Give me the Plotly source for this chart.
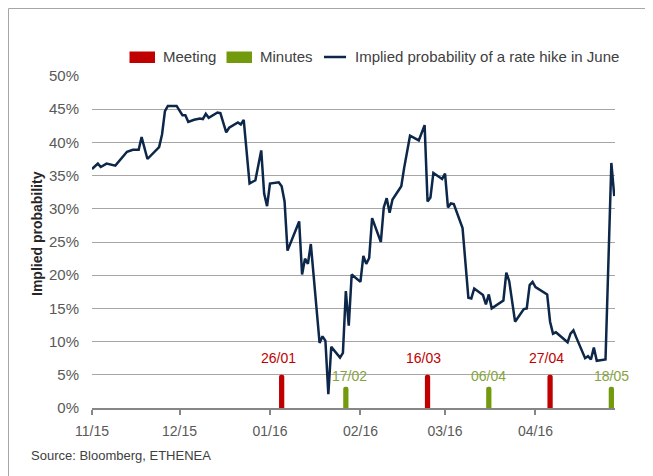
import plotly.graph_objects as go

# ---------------- data ----------------
line_dates = [
    "2015-11-22", "2015-11-24", "2015-11-25", "2015-11-27", "2015-11-30",
    "2015-12-03", "2015-12-04", "2015-12-06", "2015-12-08", "2015-12-09",
    "2015-12-11", "2015-12-15", "2015-12-16", "2015-12-17", "2015-12-18",
    "2015-12-21", "2015-12-23", "2015-12-24", "2015-12-25", "2015-12-27",
    "2015-12-29", "2015-12-30", "2015-12-31", "2016-01-01", "2016-01-04",
    "2016-01-05", "2016-01-07", "2016-01-08", "2016-01-11", "2016-01-12",
    "2016-01-13", "2016-01-15", "2016-01-17", "2016-01-19", "2016-01-20",
    "2016-01-21", "2016-01-22", "2016-01-25", "2016-01-26", "2016-01-27",
    "2016-01-28", "2016-02-01", "2016-02-02", "2016-02-03", "2016-02-04",
    "2016-02-05", "2016-02-08", "2016-02-09", "2016-02-10", "2016-02-11",
    "2016-02-12", "2016-02-15", "2016-02-16", "2016-02-17", "2016-02-18",
    "2016-02-19", "2016-02-22", "2016-02-23", "2016-02-24", "2016-02-25",
    "2016-02-26", "2016-02-29", "2016-03-01", "2016-03-02", "2016-03-03",
    "2016-03-04", "2016-03-07", "2016-03-08", "2016-03-10", "2016-03-13",
    "2016-03-15", "2016-03-16", "2016-03-17", "2016-03-18", "2016-03-21",
    "2016-03-22", "2016-03-23", "2016-03-24", "2016-03-25", "2016-03-28",
    "2016-03-30", "2016-03-31", "2016-04-01", "2016-04-04", "2016-04-05",
    "2016-04-06", "2016-04-07", "2016-04-11", "2016-04-12", "2016-04-13",
    "2016-04-15", "2016-04-18", "2016-04-19", "2016-04-20", "2016-04-21",
    "2016-04-22", "2016-04-26", "2016-04-27", "2016-04-28", "2016-04-29",
    "2016-05-03", "2016-05-04", "2016-05-05", "2016-05-06", "2016-05-09",
    "2016-05-10", "2016-05-11", "2016-05-12", "2016-05-13", "2016-05-16",
    "2016-05-18", "2016-05-19",
]
line_values = [
    0.360, 0.368, 0.363, 0.368, 0.365,
    0.382, 0.386, 0.389, 0.389, 0.408,
    0.375, 0.393, 0.412, 0.447, 0.455,
    0.455, 0.441, 0.441, 0.431, 0.434,
    0.436, 0.435, 0.443, 0.437, 0.445,
    0.444, 0.415, 0.422, 0.430, 0.427,
    0.434, 0.338, 0.343, 0.388, 0.323,
    0.304, 0.338, 0.340, 0.334, 0.311,
    0.237, 0.281, 0.201, 0.225, 0.217,
    0.247, 0.098, 0.108, 0.101, 0.021,
    0.092, 0.076, 0.083, 0.176, 0.124,
    0.201, 0.190, 0.229, 0.217, 0.226,
    0.286, 0.250, 0.302, 0.316, 0.294,
    0.314, 0.334, 0.362, 0.410, 0.403,
    0.426, 0.311, 0.317, 0.354, 0.345,
    0.353, 0.302, 0.308, 0.307, 0.271,
    0.166, 0.165, 0.180, 0.170, 0.156,
    0.171, 0.150, 0.162, 0.204, 0.191,
    0.130, 0.149, 0.150, 0.185, 0.190,
    0.182, 0.171, 0.130, 0.112, 0.114,
    0.099, 0.112, 0.117, 0.106, 0.075,
    0.078, 0.073, 0.091, 0.071, 0.073,
    0.369, 0.319,
]

meeting_dates = ["2016-01-26", "2016-03-16", "2016-04-27"]
meeting_labels = ["26/01", "16/03", "27/04"]
meeting_heights = [0.05, 0.05, 0.05]

minutes_dates = ["2016-02-17", "2016-04-06", "2016-05-18"]
minutes_labels = ["17/02", "06/04", "18/05"]
minutes_heights = [0.032, 0.032, 0.032]

tick_dates = ["2015-11-22", "2015-12-22", "2016-01-22",
              "2016-02-22", "2016-03-22", "2016-04-22"]
tick_labels = ["11/15", "12/15", "01/16", "02/16", "03/16", "04/16"]

y_ticks = [0, 0.05, 0.10, 0.15, 0.20, 0.25, 0.30, 0.35, 0.40, 0.45, 0.50]

legend_names = ["Meeting", "Minutes", "Implied probability of a rate hike in June"]

# ---------------- style ----------------
OFF = 8  # page body margin
W, H = 645, 468
L, R, T, B = 84, 38, 68, 68
PW, PH = W - L - R, H - T - B
RED = "#c00000"
GREEN = "#739a0c"
GREEN_TXT = "#86a43e"
NAVY = "#0c2749"
FONT = "Liberation Sans, Arial, sans-serif"
DAY_MS = 86400000


def px(x):
    """page pixel x -> paper coordinate"""
    return (x - OFF - L) / PW


def py(y):
    """page pixel y -> paper coordinate"""
    return (H - B - (y - OFF)) / PH


fig = go.Figure()

fig.add_trace(go.Bar(
    x=meeting_dates, y=meeting_heights, name=legend_names[0],
    marker=dict(color=RED, line=dict(width=0)),
    width=[1.8 * DAY_MS] * len(meeting_dates), showlegend=False,
    hoverinfo="skip",
))
fig.add_trace(go.Bar(
    x=minutes_dates, y=minutes_heights, name=legend_names[1],
    marker=dict(color=GREEN, line=dict(width=0)),
    width=[1.8 * DAY_MS] * len(minutes_dates), showlegend=False,
    hoverinfo="skip",
))
fig.add_trace(go.Scatter(
    x=line_dates, y=line_values, mode="lines", name=legend_names[2],
    line=dict(color=NAVY, width=2.5), showlegend=False,
))

annotations = []
label_shift = {"26/01": -3, "16/03": -4, "27/04": -4, "17/02": 4}
for d, lab, h in zip(meeting_dates, meeting_labels, meeting_heights):
    annotations.append(dict(
        x=d, y=h, xref="x", yref="y", text=lab, showarrow=False,
        yanchor="bottom", yshift=7, xshift=label_shift.get(lab, 0),
        font=dict(family=FONT, size=14, color=RED),
    ))
for d, lab, h in zip(minutes_dates, minutes_labels, minutes_heights):
    annotations.append(dict(
        x=d, y=h, xref="x", yref="y", text=lab, showarrow=False,
        yanchor="bottom", yshift=1, xshift=label_shift.get(lab, 0),
        font=dict(family=FONT, size=14, color=GREEN_TXT),
    ))

# legend (drawn manually)
LEG_Y = 57
leg_font = dict(family=FONT, size=15, color="#404040")
annotations += [
    dict(x=px(161), y=py(LEG_Y), xref="paper", yref="paper", text=legend_names[0],
         showarrow=False, xanchor="left", yanchor="middle", font=leg_font),
    dict(x=px(258), y=py(LEG_Y), xref="paper", yref="paper", text=legend_names[1],
         showarrow=False, xanchor="left", yanchor="middle", font=leg_font),
    dict(x=px(353), y=py(LEG_Y), xref="paper", yref="paper", text=legend_names[2],
         showarrow=False, xanchor="left", yanchor="middle", font=leg_font),
]

# y-axis title
annotations.append(dict(
    x=px(37), y=py(234), xref="paper", yref="paper", text="Implied probability",
    textangle=-90, showarrow=False, xanchor="center", yanchor="middle",
    font=dict(family=FONT, size=14, color="#262626", weight="bold"),
))
# source
annotations.append(dict(
    x=px(29), y=py(455), xref="paper", yref="paper", text="Source: Bloomberg, ETHENEA",
    showarrow=False, xanchor="left", yanchor="middle",
    font=dict(family=FONT, size=13, color="#404040"),
))

shapes = [
    # outer frame (left + top)
    dict(type="line", xref="paper", yref="paper", x0=px(8.5), x1=px(8.5),
         y0=py(490), y1=py(8.5), line=dict(color="#a6a6a6", width=1)),
    dict(type="line", xref="paper", yref="paper", x0=px(8.5), x1=px(670),
         y0=py(8.5), y1=py(8.5), line=dict(color="#a6a6a6", width=1)),
    # legend swatches
    dict(type="rect", xref="paper", yref="paper", x0=px(129.5), x1=px(155),
         y0=py(63), y1=py(51.5), fillcolor=RED, line=dict(width=0)),
    dict(type="rect", xref="paper", yref="paper", x0=px(226.5), x1=px(252),
         y0=py(63), y1=py(51.5), fillcolor=GREEN, line=dict(width=0)),
    dict(type="line", xref="paper", yref="paper", x0=px(324), x1=px(346),
         y0=py(LEG_Y), y1=py(LEG_Y), line=dict(color=NAVY, width=2.5)),
]

fig.update_layout(
    width=W, height=H,
    margin=dict(l=L, r=R, t=T, b=B, autoexpand=False),
    paper_bgcolor="white", plot_bgcolor="white",
    barmode="overlay", barcornerradius=3,
    showlegend=False,
    font=dict(family=FONT, size=14, color="#595959"),
    annotations=annotations, shapes=shapes,
    xaxis=dict(
        type="date",
        range=["2015-11-22", "2016-05-19 06:00"],
        tickvals=tick_dates, ticktext=tick_labels,
        showgrid=False, zeroline=False,
        showline=True, linecolor="#868686", linewidth=1.5,
        ticks="outside", ticklen=5, tickwidth=1.5, tickcolor="#868686",
        ticklabelstandoff=4,
        tickfont=dict(family=FONT, size=14, color="#595959"),
        fixedrange=True,
    ),
    yaxis=dict(
        range=[0, 0.5], tickvals=y_ticks, tickformat=".0%",
        showgrid=True, gridcolor="#a6a6a6", gridwidth=1,
        zeroline=False, showline=False, ticks="",
        ticklabelstandoff=12,
        tickfont=dict(family=FONT, size=15, color="#595959"),
        fixedrange=True,
    ),
)

fig.write_html("out.html")
